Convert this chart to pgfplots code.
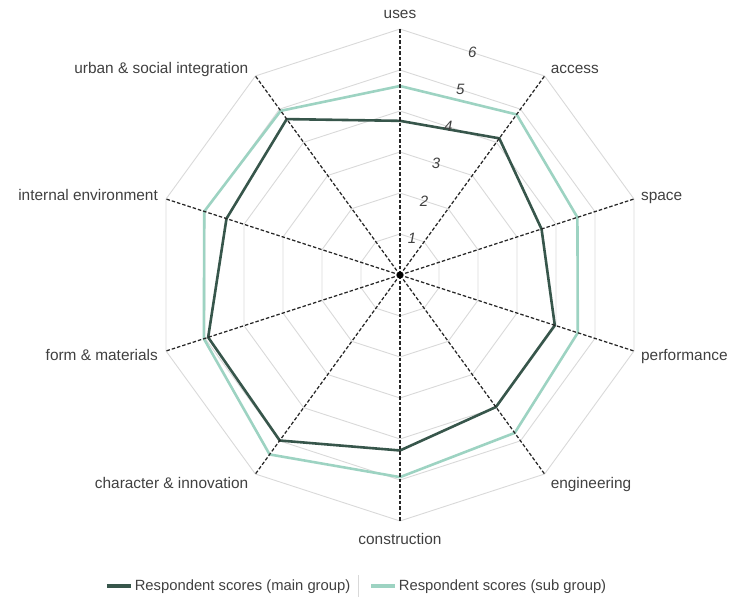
\documentclass[border=0pt]{standalone}
\usepackage{pgfplots}
\pgfplotsset{compat=1.18}
\usepgfplotslibrary{polar}
\usepackage{pgfplotstable}
\usepackage{fontspec}
\setmainfont{Liberation Sans}
\definecolor{maingrp}{HTML}{37564B}
\definecolor{subgrp}{HTML}{9DD3C2}
\definecolor{ringgray}{HTML}{D9D9D9}
\definecolor{txt}{HTML}{404040}
\tikzset{lab/.style={font=\fontsize{15.4bp}{18bp}\selectfont, text=txt, inner sep=0pt}}

% angle (deg), main group, sub group; first row repeated to close the shape
\pgfplotstableread{
a     main  sub
90    3.76  4.61
54    4.12  4.84
18    3.63  4.55
-18   3.97  4.56
-54   3.98  4.76
-90   4.28  4.93
-126  4.99  5.41
-162  4.92  5.03
-198  4.45  5.02
-234  4.70  4.95
-270  3.76  4.61
}\scores

\begin{document}
\begin{tikzpicture}
\useasboundingbox (0,0) rectangle (729bp,601bp);
\begin{polaraxis}[
  at={(400bp,326bp)}, anchor=center,
  scale only axis, width=492bp, height=492bp,
  ymin=0, ymax=6, hide axis, clip=false,
  legend style={at={(axis description cs:0.412,-0.132)}, anchor=center,
    draw=none, fill=none, legend columns=2, text=txt,
    font=\fontsize{14.8bp}{17bp}\selectfont,
    /tikz/every even column/.append style={column sep=17bp}},
  legend image code/.code={\draw[#1, line width=3.6bp] (0bp,0bp) -- (24bp,0bp);},
]
% decagon rings
\pgfplotsinvokeforeach{1,2,3,4,5,6}{
  \addplot[ringgray, line width=0.9bp, forget plot]
    coordinates {(90,#1) (54,#1) (18,#1) (-18,#1) (-54,#1) (-90,#1)
                 (-126,#1) (-162,#1) (-198,#1) (-234,#1) (-270,#1)};
}
\addplot[maingrp, line width=2.6bp] table[x=a, y=main] {\scores};
\addlegendentry{Respondent scores (main group)}
\addplot[subgrp, line width=2.6bp] table[x=a, y=sub] {\scores};
\addlegendentry{Respondent scores (sub group)}
% dashed spokes
\pgfplotsinvokeforeach{90,54,18,-18,-54,-90,-126,-162,-198,-234}{
  \addplot[black!85, line width=1.25bp, dash pattern=on 3.5bp off 2bp, forget plot]
    coordinates {(#1,0) (#1,6)};
}
\addplot[black, only marks, mark=*, mark size=3.2bp, forget plot] coordinates {(0,0)};
% value labels
\pgfplotsinvokeforeach{1,2,3,4,5,6}{
  \node[font=\fontsize{15bp}{18bp}\selectfont\itshape, text=txt]
    at (axis cs:72,{0.951*#1}) {#1};
}
% category labels
\node[lab, anchor=base] at ([yshift=11bp]axis cs:90,6) {uses};
\node[lab, anchor=base west] at ([xshift=6bp, yshift=2bp]axis cs:54,6) {access};
\node[lab, anchor=base west] at ([xshift=7bp, yshift=-2bp]axis cs:18,6) {space};
\node[lab, anchor=base west] at ([xshift=7bp, yshift=-9bp]axis cs:-18,6) {performance};
\node[lab, anchor=base west] at ([xshift=6bp, yshift=-14bp]axis cs:-54,6) {engineering};
\node[lab, anchor=base] at ([yshift=-24bp]axis cs:-90,6) {construction};
\node[lab, anchor=base east] at ([xshift=-7bp, yshift=-14bp]axis cs:-126,6) {character \& innovation};
\node[lab, anchor=base east] at ([xshift=-8bp, yshift=-9bp]axis cs:-162,6) {form \& materials};
\node[lab, anchor=base east] at ([xshift=-8bp, yshift=-2bp]axis cs:162,6) {internal environment};
\node[lab, anchor=base east] at ([xshift=-7bp, yshift=2bp]axis cs:126,6) {urban \& social integration};
\end{polaraxis}
\draw[ringgray, line width=0.8bp] (358bp,4bp) -- (358bp,26bp);
\end{tikzpicture}
\end{document}
